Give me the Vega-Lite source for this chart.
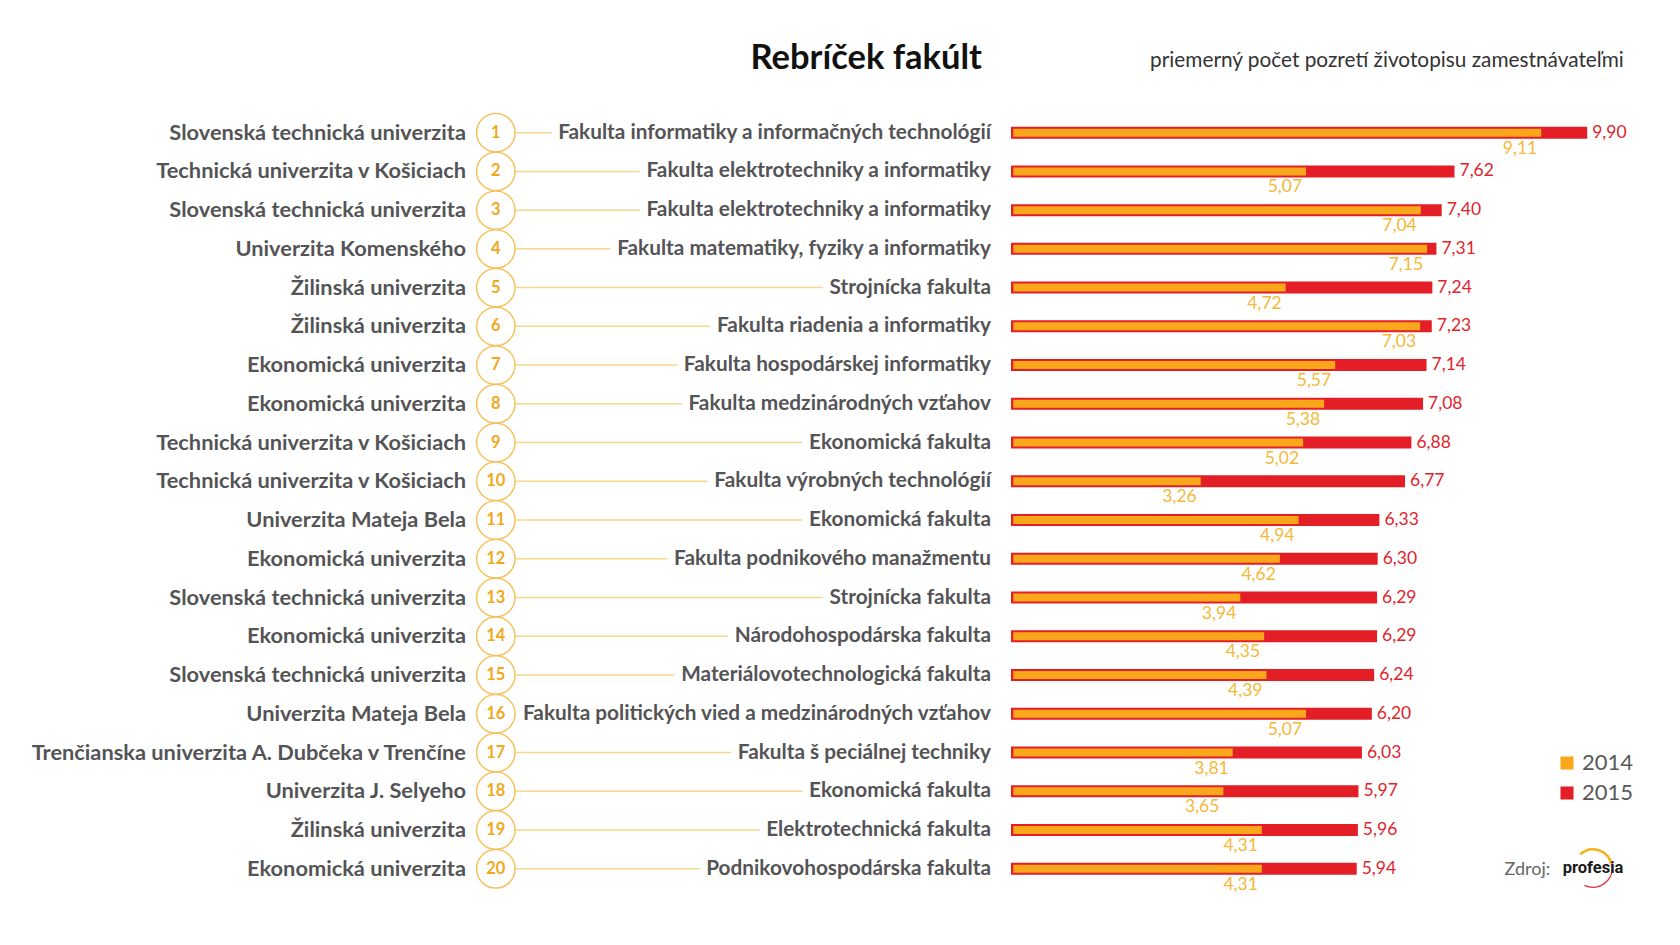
{
  "$schema": "https://vega.github.io/schema/vega-lite/v6.json",
  "width": 1680,
  "height": 945,
  "autosize": {"type": "fit", "contains": "padding"},
  "padding": 0,
  "background": "white",
  "config": {
    "view": {"stroke": null},
    "locale": {"number": {"decimal": ",", "thousands": " ", "grouping": [3], "currency": ["", " €"]}},
    "text": {"font": "Lato"}
  },
  "datasets": {
    "rows": [
      {"rank": 1, "univerzita": "Slovenská technická univerzita", "fakulta": "Fakulta informatiky a informačných technológií", "v2014": 9.11, "v2015": 9.90},
      {"rank": 2, "univerzita": "Technická univerzita v Košiciach", "fakulta": "Fakulta elektrotechniky a informatiky", "v2014": 5.07, "v2015": 7.62},
      {"rank": 3, "univerzita": "Slovenská technická univerzita", "fakulta": "Fakulta elektrotechniky a informatiky", "v2014": 7.04, "v2015": 7.40},
      {"rank": 4, "univerzita": "Univerzita Komenského", "fakulta": "Fakulta matematiky, fyziky a informatiky", "v2014": 7.15, "v2015": 7.31},
      {"rank": 5, "univerzita": "Žilinská univerzita", "fakulta": "Strojnícka fakulta", "v2014": 4.72, "v2015": 7.24},
      {"rank": 6, "univerzita": "Žilinská univerzita", "fakulta": "Fakulta riadenia a informatiky", "v2014": 7.03, "v2015": 7.23},
      {"rank": 7, "univerzita": "Ekonomická univerzita", "fakulta": "Fakulta hospodárskej informatiky", "v2014": 5.57, "v2015": 7.14},
      {"rank": 8, "univerzita": "Ekonomická univerzita", "fakulta": "Fakulta medzinárodných vzťahov", "v2014": 5.38, "v2015": 7.08},
      {"rank": 9, "univerzita": "Technická univerzita v Košiciach", "fakulta": "Ekonomická fakulta", "v2014": 5.02, "v2015": 6.88},
      {"rank": 10, "univerzita": "Technická univerzita v Košiciach", "fakulta": "Fakulta výrobných technológií", "v2014": 3.26, "v2015": 6.77},
      {"rank": 11, "univerzita": "Univerzita Mateja Bela", "fakulta": "Ekonomická fakulta", "v2014": 4.94, "v2015": 6.33},
      {"rank": 12, "univerzita": "Ekonomická univerzita", "fakulta": "Fakulta podnikového manažmentu", "v2014": 4.62, "v2015": 6.30},
      {"rank": 13, "univerzita": "Slovenská technická univerzita", "fakulta": "Strojnícka fakulta", "v2014": 3.94, "v2015": 6.29},
      {"rank": 14, "univerzita": "Ekonomická univerzita", "fakulta": "Národohospodárska fakulta", "v2014": 4.35, "v2015": 6.29},
      {"rank": 15, "univerzita": "Slovenská technická univerzita", "fakulta": "Materiálovotechnologická fakulta", "v2014": 4.39, "v2015": 6.24},
      {"rank": 16, "univerzita": "Univerzita Mateja Bela", "fakulta": "Fakulta politických vied a medzinárodných vzťahov", "v2014": 5.07, "v2015": 6.20},
      {"rank": 17, "univerzita": "Trenčianska univerzita A. Dubčeka v Trenčíne", "fakulta": "Fakulta š peciálnej techniky", "v2014": 3.81, "v2015": 6.03},
      {"rank": 18, "univerzita": "Univerzita J. Selyeho", "fakulta": "Ekonomická fakulta", "v2014": 3.65, "v2015": 5.97},
      {"rank": 19, "univerzita": "Žilinská univerzita", "fakulta": "Elektrotechnická fakulta", "v2014": 4.31, "v2015": 5.96},
      {"rank": 20, "univerzita": "Ekonomická univerzita", "fakulta": "Podnikovohospodárska fakulta", "v2014": 4.31, "v2015": 5.94}
    ]
  },
  "data": {"name": "rows"},
  "layer": [
    {
      "mark": {"type": "rule", "stroke": "#F8D68A", "strokeWidth": 1.5},
      "encoding": {
        "x": {"datum": -8.852, "type": "quantitative", "scale": {"domain": [-17.371, 11.495], "nice": false, "zero": false}, "axis": null},
        "x2": {"datum": -0.344},
        "y": {"field": "rank", "type": "quantitative", "scale": {"domain": [-2.294, 21.837], "reverse": true, "nice": false, "zero": false}, "axis": null}
      }
    },
    {
      "mark": {"type": "text", "align": "right", "baseline": "middle", "font": "Lato", "fontWeight": "bold", "fontSize": 20.8, "fill": "white", "stroke": "white", "strokeWidth": 16, "strokeJoin": "round"},
      "encoding": {
        "x": {"datum": -0.344, "type": "quantitative"},
        "y": {"field": "rank", "type": "quantitative"},
        "text": {"field": "fakulta"}
      }
    },
    {
      "mark": {"type": "text", "align": "right", "baseline": "middle", "font": "Lato", "fontWeight": "bold", "fontSize": 20.8, "fill": "#545456"},
      "encoding": {
        "x": {"datum": -0.344, "type": "quantitative"},
        "y": {"field": "rank", "type": "quantitative"},
        "text": {"field": "fakulta"}
      }
    },
    {
      "mark": {"type": "text", "align": "right", "baseline": "middle", "font": "Lato", "fontWeight": "bold", "fontSize": 21.8, "fill": "#545456"},
      "encoding": {
        "x": {"datum": -9.364, "type": "quantitative"},
        "y": {"field": "rank", "type": "quantitative"},
        "text": {"field": "univerzita"}
      }
    },
    {
      "mark": {"type": "point", "shape": "circle", "size": 1480, "filled": false, "fill": "white", "fillOpacity": 1, "stroke": "#F6C25E", "strokeWidth": 1.5, "opacity": 1},
      "encoding": {
        "x": {"datum": -8.852, "type": "quantitative"},
        "y": {"field": "rank", "type": "quantitative"}
      }
    },
    {
      "mark": {"type": "text", "align": "center", "baseline": "middle", "font": "Lato", "fontWeight": "bold", "fontSize": 16.5, "fill": "#F2A81D"},
      "encoding": {
        "x": {"datum": -8.852, "type": "quantitative"},
        "y": {"field": "rank", "type": "quantitative"},
        "text": {"field": "rank"}
      }
    },
    {
      "mark": {"type": "bar", "size": 12},
      "encoding": {
        "x": {"field": "v2015", "type": "quantitative"},
        "x2": {"datum": 0},
        "y": {"field": "rank", "type": "quantitative"},
        "color": {"datum": "2015", "type": "nominal", "scale": {"domain": ["2014", "2015"], "range": ["#FBA71B", "#E31E26"]},
          "legend": {"orient": "none", "legendX": 1556, "legendY": 752, "title": null, "symbolType": "square", "symbolSize": 170, "symbolStrokeWidth": 0, "labelFontSize": 22, "labelFont": "Lato", "labelColor": "#58585A", "rowPadding": 8, "labelOffset": 4}}
      }
    },
    {
      "mark": {"type": "bar", "size": 8},
      "encoding": {
        "x": {"field": "v2014", "type": "quantitative"},
        "x2": {"datum": 0.04},
        "y": {"field": "rank", "type": "quantitative"},
        "color": {"datum": "2014", "type": "nominal"}
      }
    },
    {
      "mark": {"type": "text", "align": "left", "baseline": "middle", "dx": 5, "font": "Lato", "fontSize": 17.5, "fill": "#E0242C"},
      "encoding": {
        "x": {"field": "v2015", "type": "quantitative"},
        "y": {"field": "rank", "type": "quantitative"},
        "text": {"field": "v2015", "type": "quantitative", "format": ".2f"}
      }
    },
    {
      "mark": {"type": "text", "align": "right", "baseline": "middle", "dx": -4, "dy": 16, "font": "Lato", "fontSize": 17.5, "fill": "#F5B838"},
      "encoding": {
        "x": {"field": "v2014", "type": "quantitative"},
        "y": {"field": "rank", "type": "quantitative"},
        "text": {"field": "v2014", "type": "quantitative", "format": ".2f"}
      }
    },
    {
      "data": {"values": [{"label": "Rebríček fakúlt"}]},
      "mark": {"type": "text", "align": "center", "baseline": "middle", "font": "Lato", "fontWeight": "bold", "fontSize": 34.5, "fill": "#111111"},
      "encoding": {
        "x": {"datum": -2.488, "type": "quantitative"},
        "y": {"datum": -0.9, "type": "quantitative"},
        "text": {"field": "label"}
      }
    },
    {
      "data": {"values": [{"label": "priemerný počet pozretí životopisu zamestnávateľmi"}]},
      "mark": {"type": "text", "align": "right", "baseline": "middle", "font": "Lato", "fontSize": 20.8, "fill": "#333333"},
      "encoding": {
        "x": {"datum": 10.53, "type": "quantitative"},
        "y": {"datum": -0.86, "type": "quantitative"},
        "text": {"field": "label"}
      }
    },
    {
      "data": {"values": [{"label": "Zdroj:"}]},
      "mark": {"type": "text", "align": "left", "baseline": "middle", "font": "Lato", "fontSize": 18, "fill": "#666666"},
      "encoding": {
        "x": {"datum": 8.48, "type": "quantitative"},
        "y": {"datum": 20.02, "type": "quantitative"},
        "text": {"field": "label"}
      }
    },
    {
      "data": {"values": [{"part": "top"}]},
      "mark": {"type": "arc", "radius": 20, "radius2": 17.5, "theta": -0.75, "theta2": 1.4, "fill": "#F3B21C"},
      "encoding": {
        "x": {"datum": 10.0, "type": "quantitative"},
        "y": {"datum": 19.98, "type": "quantitative"}
      }
    },
    {
      "data": {"values": [{"part": "bottom"}]},
      "mark": {"type": "arc", "radius": 20, "radius2": 18.5, "theta": 1.4, "theta2": 3.6, "fill": "#E2363B"},
      "encoding": {
        "x": {"datum": 10.0, "type": "quantitative"},
        "y": {"datum": 19.98, "type": "quantitative"}
      }
    },
    {
      "data": {"values": [{"label": "profesia"}]},
      "mark": {"type": "text", "align": "center", "baseline": "middle", "font": "Roboto", "fontWeight": "bold", "fontSize": 16.5, "fill": "#1a1a1a"},
      "encoding": {
        "x": {"datum": 10.0, "type": "quantitative"},
        "y": {"datum": 19.98, "type": "quantitative"},
        "text": {"field": "label"}
      }
    }
  ]
}
